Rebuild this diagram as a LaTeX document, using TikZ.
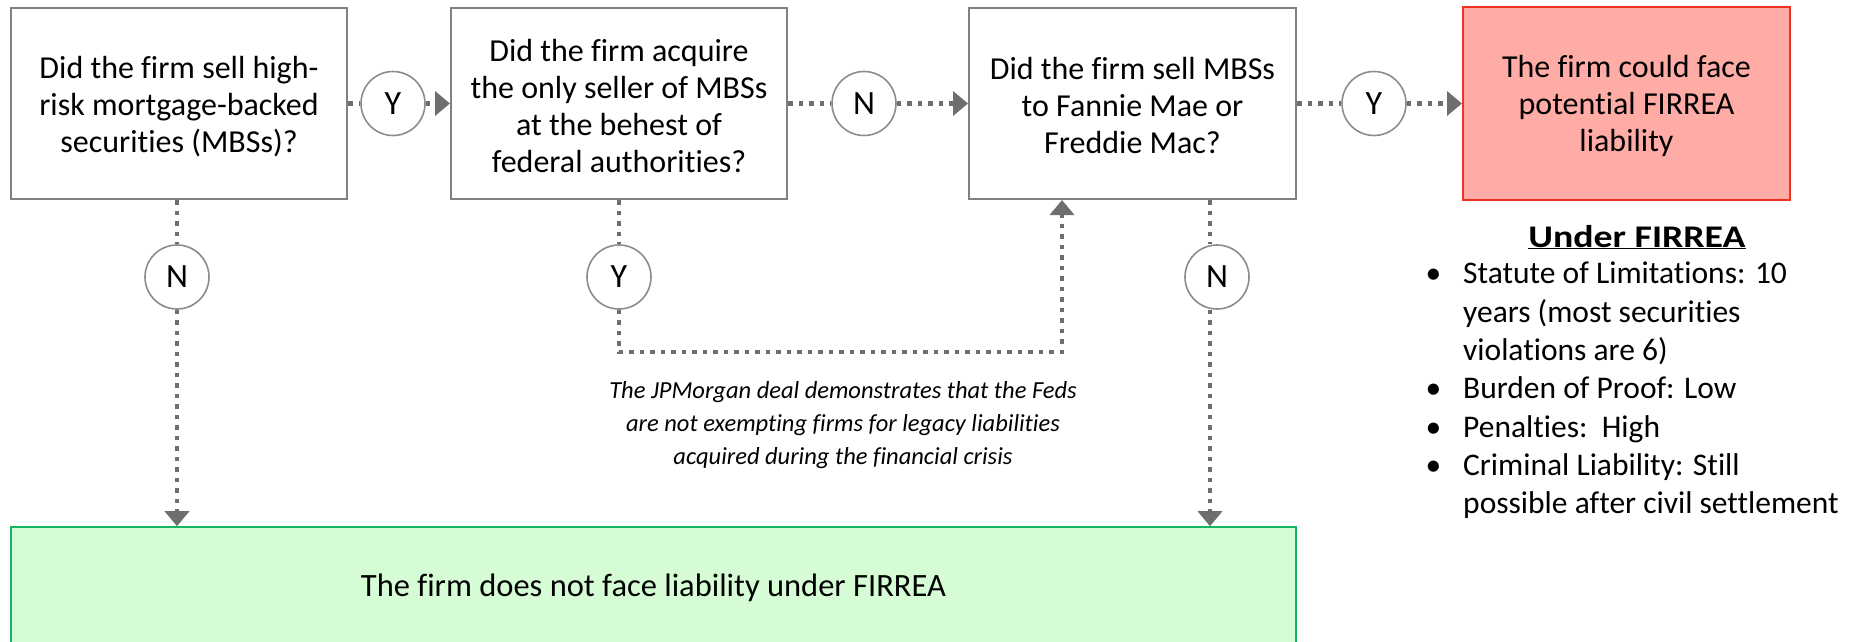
\documentclass[tikz,border=0pt]{standalone}
\usepackage{fontspec}
\setmainfont{Carlito}[Ligatures=NoCommon]
\newfontfamily\headfont{Carlito}[Ligatures=NoCommon,FakeStretch=1.2]
\usetikzlibrary{arrows.meta}
\definecolor{linegray}{RGB}{110,110,110}
\definecolor{boxgray}{RGB}{128,128,128}
\definecolor{circgray}{RGB}{140,140,140}
\definecolor{redfill}{RGB}{255,171,166}
\definecolor{redline}{RGB}{240,50,30}
\definecolor{greenfill}{RGB}{213,252,213}
\definecolor{greenline}{RGB}{20,180,100}
\begin{document}
\begin{tikzpicture}[x=1pt,y=-1pt,
  qbox/.style={draw=boxgray, line width=2pt, rectangle, inner sep=0pt},
  btext/.style={align=center, inner sep=0pt, font=\fontsize{32}{37}\selectfont},
  yn/.style={circle, draw=circgray, line width=1.6pt, minimum size=64pt, inner sep=0pt,
    font=\fontsize{34}{34}\selectfont, fill=white},
  dotline/.style={draw=linegray, line width=4.5pt, dash pattern=on 4.5pt off 6pt},
  arr/.style={-{Triangle[length=15pt,width=24pt]}},
  note/.style={align=center, inner sep=0pt, font=\fontsize{24.5}{33}\selectfont\itshape},
  txt/.style={inner sep=0pt, font=\fontsize{31.5}{38.3}\selectfont}
]
\useasboundingbox (0,0) rectangle (1856,641);

% boxes
\node[qbox, minimum width=336pt, minimum height=191pt] (b1) at (179,103.5) {};
\node[qbox, minimum width=336pt, minimum height=191pt] (b2) at (619,103.5) {};
\node[qbox, minimum width=327pt, minimum height=191pt] (b3) at (1132.5,103.5) {};
\node[qbox, draw=redline, fill=redfill, minimum width=327pt, minimum height=193pt] (red) at (1626.5,103.5) {};
\node[qbox, draw=greenline, line width=1.6pt, fill=greenfill, minimum width=1285pt, minimum height=122pt] (green) at (653.5,588) {};

\node[btext] (t1) at ([yshift=-3pt]b1.center)
  {Did the firm sell high-\\risk mortgage-backed\\securities (MBSs)?};
\node[btext] (t2) at ([yshift=-3pt]b2.center)
  {Did the firm acquire\\the only seller of MBSs\\at the behest of\\federal authorities?};
\node[btext] (t3) at ([yshift=-2pt]b3.center)
  {Did the firm sell MBSs\\to Fannie Mae or\\Freddie Mac?};
\node[btext] (t4) at ([yshift=-2pt]red.center)
  {The firm could face\\potential FIRREA\\liability};
\node[btext, font=\fontsize{32.5}{37}\selectfont] (t5) at (green.center)
  {The firm does not face liability under FIRREA};

% circles
\node[yn] (y1) at (393,103.5) {Y};
\node[yn] (n2) at (864,103.5) {N};
\node[yn] (y3) at (1374,103.5) {Y};
\node[yn] (n1) at (177,277) {N};
\node[yn] (y2) at (619,277) {Y};
\node[yn] (n3) at (1217,277) {N};

\coordinate (c1) at (619,352);
\coordinate (c2) at (1062,352);
\coordinate (l3) at (1210,277);

% connectors
\draw[dotline] (b1.east) -- (y1);
\draw[dotline, arr] (y1) -- (b2.west);
\draw[dotline] (b2.east) -- (n2);
\draw[dotline, arr] (n2) -- (b3.west);
\draw[dotline] (b3.east) -- (y3);
\draw[dotline, arr] (y3) -- (red.west);

\draw[dotline] (b1.south -| n1) -- (n1);
\draw[dotline, arr] (n1) -- (green.north -| n1);
\draw[dotline] (b2.south) -- (y2);
\draw[dotline, arr] (y2) -- (c1) -- (c2) -- (c2 |- b3.south);
\draw[dotline] (b3.south -| l3) -- (n3.north -| l3);
\draw[dotline, arr] (n3.south -| l3) -- (green.north -| l3);

% note
\node[note] (note) at (843,425)
  {The JPMorgan deal demonstrates that the Feds\\are not exempting firms for legacy liabilities\\acquired during the financial crisis};

% Under FIRREA
\node[txt, anchor=base] (uf) at (1637,247) {\underline{\headfont\bfseries Under FIRREA}};
\node[txt, anchor=north west, align=left] (list) at (1463,262)
  {\llap{\textbullet\hspace{22pt}}Statute of Limitations: 10\\
   years (most securities\\
   violations are 6)\\
   \llap{\textbullet\hspace{22pt}}Burden of Proof: Low\\
   \llap{\textbullet\hspace{22pt}}Penalties:\ \ High\\
   \llap{\textbullet\hspace{22pt}}Criminal Liability: Still\\
   possible after civil settlement};
\end{tikzpicture}
\end{document}
